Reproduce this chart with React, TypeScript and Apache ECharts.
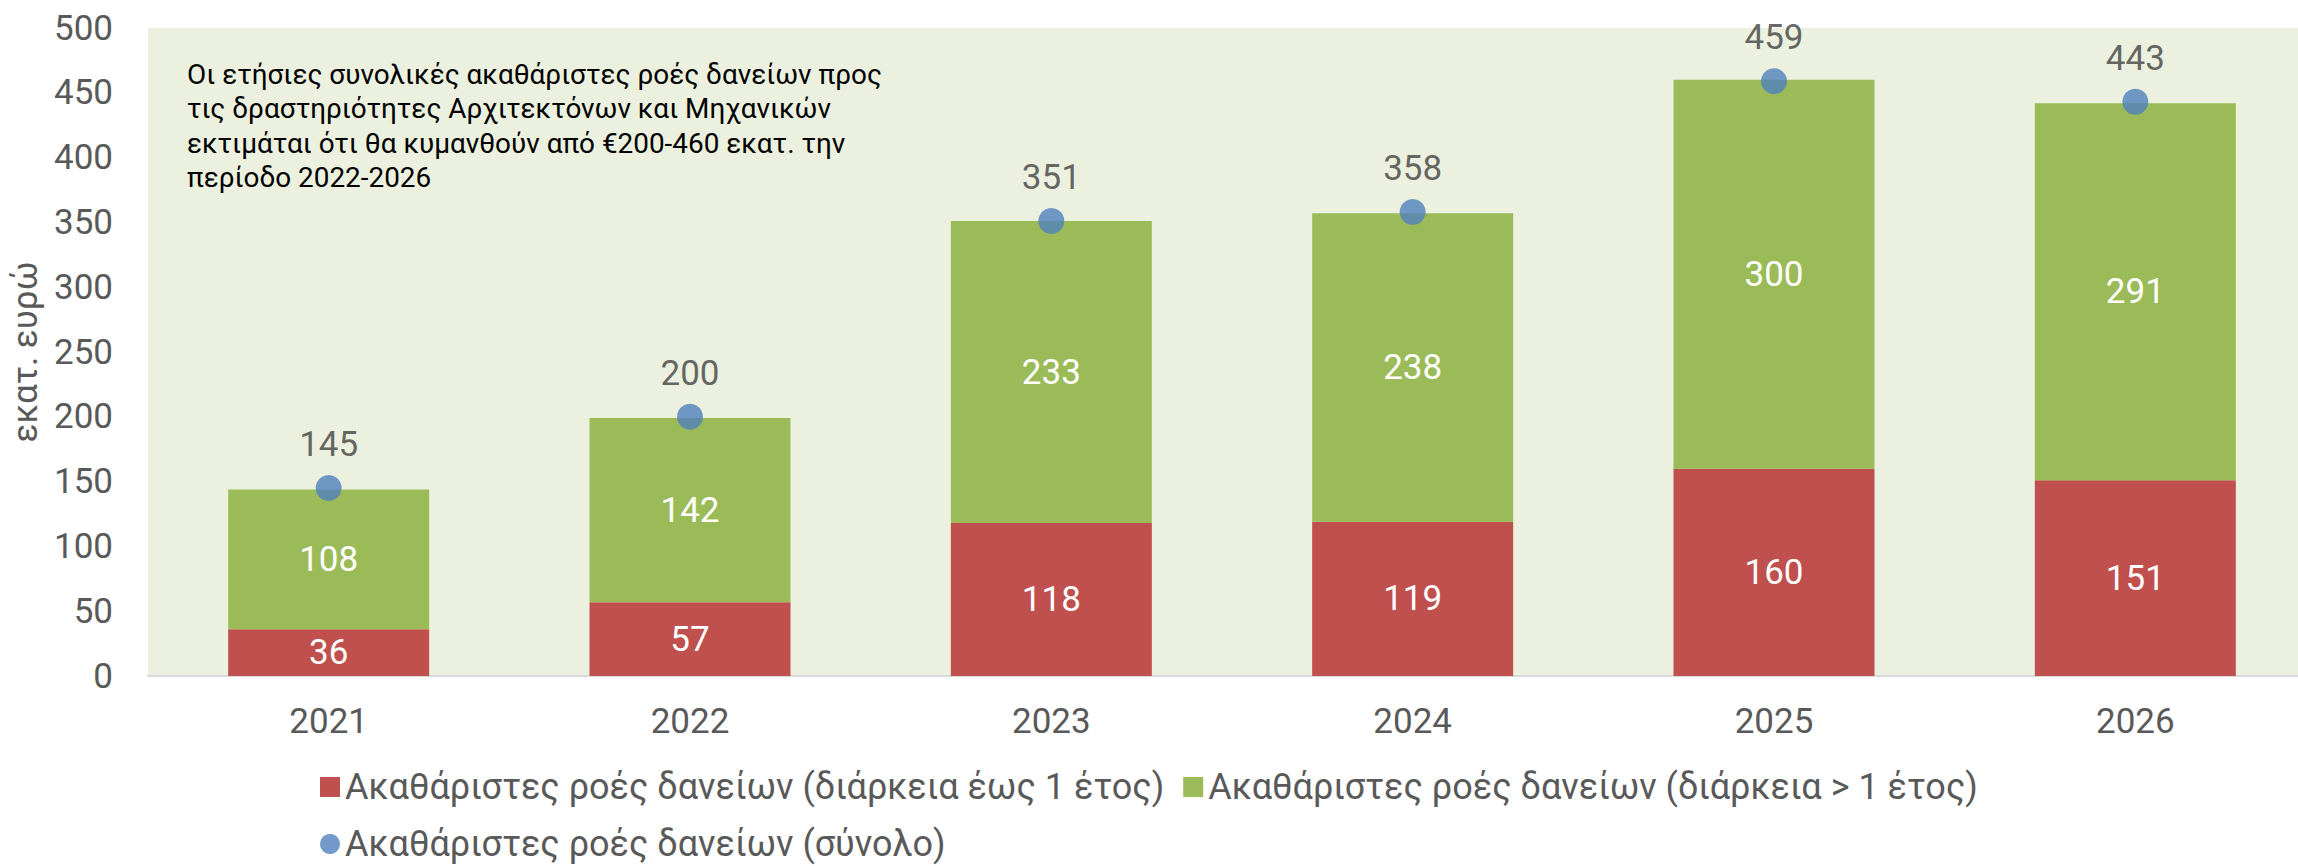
import React, { useEffect, useRef } from "react";
import * as echarts from "echarts";

const categories = ["2021", "2022", "2023", "2024", "2025", "2026"];
const shortTerm = [36, 57, 118, 119, 160, 151];
const longTerm = [108, 142, 233, 238, 300, 291];
const totals = [145, 200, 351, 358, 459, 443];

const seriesNames = [
  "Ακαθάριστες ροές δανείων (διάρκεια έως 1 έτος)",
  "Ακαθάριστες ροές δανείων (διάρκεια > 1 έτος)",
  "Ακαθάριστες ροές δανείων (σύνολο)",
];
const yAxisName = "εκατ. ευρώ";
const noteLines = [
  "Οι ετήσιες συνολικές ακαθάριστες ροές δανείων προς",
  "τις δραστηριότητες Αρχιτεκτόνων και Μηχανικών",
  "εκτιμάται ότι θα κυμανθούν από €200-460 εκατ. την",
  "περίοδο 2022-2026",
];

const FONT = "Roboto, 'Liberation Sans', sans-serif";

export default function App() {
  const ref = useRef<HTMLDivElement>(null);
  useEffect(() => {
    if (!ref.current) return;
    const chart = echarts.init(ref.current, undefined, { renderer: "svg" });
    chart.setOption({
      animation: false,
      backgroundColor: "#FFFFFF",
      textStyle: { fontFamily: FONT },
      grid: {
        left: 148,
        right: 4,
        top: 28,
        bottom: 190,
        show: true,
        backgroundColor: "#EBF1DE",
        borderWidth: 0,
        containLabel: false,
      },
      legend: {
        left: 315,
        top: 763,
        width: 1720,
        itemWidth: 20,
        itemHeight: 20,
        itemGap: 19,
        textStyle: {
          fontFamily: FONT,
          fontSize: 36,
          color: "#595959",
          lineHeight: 38,
        },
        data: [
          { name: seriesNames[0], icon: "rect" },
          { name: seriesNames[1], icon: "rect" },
          { name: seriesNames[2], icon: "circle" },
        ],
      },
      xAxis: {
        type: "category",
        data: categories,
        axisLine: { show: true, lineStyle: { color: "#D9D9D9", width: 2 } },
        axisTick: { show: false },
        axisLabel: {
          fontSize: 35,
          color: "#595959",
          margin: 28,
          fontFamily: FONT,
        },
        splitLine: { show: false },
      },
      yAxis: {
        type: "value",
        min: 0,
        max: 500,
        interval: 50,
        name: yAxisName,
        nameLocation: "middle",
        nameGap: 98,
        nameTextStyle: { fontSize: 35, color: "#595959", fontFamily: FONT },
        axisLine: { show: false },
        axisTick: { show: false },
        splitLine: { show: false },
        axisLabel: {
          fontSize: 35,
          color: "#595959",
          margin: 35,
          fontFamily: FONT,
        },
      },
      graphic: [
        {
          type: "text",
          left: 187,
          top: 57,
          style: {
            text: noteLines.join("\n"),
            fontSize: 27.9,
            lineHeight: 34.5,
            fill: "#000000",
            fontFamily: FONT,
          },
          z: 10,
        },
      ],
      series: [
        {
          name: seriesNames[0],
          type: "bar",
          stack: "loans",
          data: shortTerm,
          barWidth: 201,
          itemStyle: { color: "#C0504D" },
          label: {
            show: true,
            position: "inside",
            color: "#FFFFFF",
            fontSize: 35,
            fontFamily: FONT,
          },
        },
        {
          name: seriesNames[1],
          type: "bar",
          stack: "loans",
          data: longTerm,
          barWidth: 201,
          itemStyle: { color: "#9BBB59" },
          label: {
            show: true,
            position: "inside",
            color: "#FFFFFF",
            fontSize: 35,
            fontFamily: FONT,
          },
        },
        {
          name: seriesNames[2],
          type: "scatter",
          data: totals,
          symbol: "circle",
          symbolSize: 26,
          itemStyle: { color: "#4F81BD" },
          z: 5,
          label: {
            show: true,
            position: "top",
            distance: 13,
            color: "#404040",
            fontSize: 35,
            fontFamily: FONT,
          },
        },
      ],
    });
    return () => chart.dispose();
  }, []);
  return (
    <div
      style={{
        position: "fixed",
        left: 0,
        top: 0,
        width: 2298,
        height: 866,
        overflow: "hidden",
      }}
    >
      <div ref={ref} style={{ width: 2320, height: 866 }} />
    </div>
  );
}
